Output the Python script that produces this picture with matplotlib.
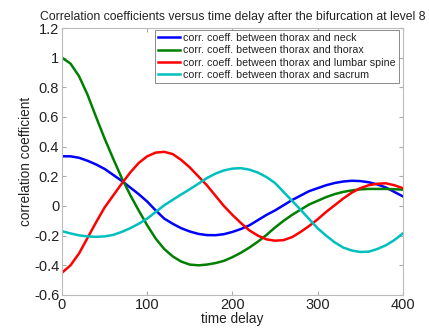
import matplotlib
matplotlib.use("Agg")
import matplotlib.pyplot as plt
import numpy as np

plt.rcParams['font.family'] = ['Liberation Sans', 'DejaVu Sans']

delay = np.arange(0, 401, 10)

neck = [0.335, 0.335, 0.325, 0.305, 0.28, 0.25, 0.21, 0.17, 0.125, 0.08,
        0.03, -0.03, -0.085, -0.12, -0.15, -0.172, -0.188, -0.196, -0.197, -0.19,
        -0.175, -0.155, -0.13, -0.095, -0.06, -0.03, 0.005, 0.04, 0.07, 0.10,
        0.12, 0.14, 0.155, 0.165, 0.17, 0.168, 0.16, 0.145, 0.125, 0.095,
        0.065]
thorax = [1.0, 0.96, 0.875, 0.75, 0.6, 0.455, 0.32, 0.19, 0.075, -0.03,
          -0.13, -0.22, -0.29, -0.34, -0.375, -0.395, -0.40, -0.395, -0.385, -0.37,
          -0.345, -0.315, -0.28, -0.24, -0.195, -0.145, -0.10, -0.06, -0.025, 0.01,
          0.035, 0.06, 0.08, 0.095, 0.105, 0.112, 0.115, 0.115, 0.115, 0.113,
          0.11]
lumbar = [-0.45, -0.40, -0.32, -0.215, -0.11, -0.01, 0.07, 0.15, 0.225, 0.29,
          0.335, 0.36, 0.365, 0.35, 0.31, 0.26, 0.20, 0.14, 0.07, 0.0,
          -0.06, -0.115, -0.165, -0.20, -0.225, -0.234, -0.23, -0.21, -0.175, -0.135,
          -0.09, -0.04, 0.005, 0.05, 0.09, 0.12, 0.14, 0.15, 0.153, 0.14,
          0.12]
sacrum = [-0.17, -0.185, -0.198, -0.205, -0.208, -0.205, -0.195, -0.175, -0.15, -0.12,
          -0.085, -0.04, 0.005, 0.042, 0.078, 0.113, 0.15, 0.188, 0.218, 0.24,
          0.252, 0.255, 0.245, 0.225, 0.195, 0.155, 0.095, 0.035, -0.025, -0.088,
          -0.15, -0.2, -0.245, -0.28, -0.30, -0.31, -0.308, -0.29, -0.265, -0.23,
          -0.185]

labels = ['corr. coeff. between thorax and neck',
          'corr. coeff. between thorax and thorax',
          'corr. coeff. between thorax and lumbar spine',
          'corr. coeff. between thorax and sacrum']
colors = ['#0000ff', '#008000', '#ff0000', '#00bfbf']

fig = plt.figure(figsize=(4.29, 3.31), dpi=100)
ax = fig.add_axes([0.1445, 0.1088, 0.7945, 0.8066])

for series, lab, col in zip([neck, thorax, lumbar, sacrum], labels, colors):
    ax.plot(delay, series, color=col, lw=1.8, label=lab)

ax.set_xlim(0, 400)
ax.set_ylim(-0.6, 1.2)
ax.set_xticks([0, 100, 200, 300, 400])
ax.set_yticks([-0.6, -0.4, -0.2, 0, 0.2, 0.4, 0.6, 0.8, 1.0, 1.2])
ax.set_yticklabels(['-0.6', '-0.4', '-0.2', '0', '0.2', '0.4', '0.6', '0.8', '1', '1.2'])
ax.tick_params(direction='in', length=3, labelsize=10.5, pad=2, color='#aaaaaa',
               labelcolor='#222222', top=True, right=True)
for s in ax.spines.values():
    s.set_color('#bbbbbb')
    s.set_linewidth(0.8)

ax.set_xlabel('time delay', fontsize=9.8, labelpad=0, color='#222222')
ax.set_ylabel('correlation coefficient', fontsize=9.8, labelpad=1, color='#222222')
ax.set_title('Correlation coefficients versus time delay after the bifurcation at level 8',
             fontsize=8.8, pad=6, color='#222222')

leg = ax.legend(loc='upper right', bbox_to_anchor=(0.988, 0.993), fontsize=7.7,
                handlelength=2.1, handletextpad=0.25, labelspacing=0.22,
                borderpad=0.3, borderaxespad=0, fancybox=False, framealpha=1)
leg.get_frame().set_edgecolor('#777777')
leg.get_frame().set_linewidth(0.6)
for t in leg.get_texts():
    t.set_color('#222222')

fig.savefig('out.png', dpi=100)
